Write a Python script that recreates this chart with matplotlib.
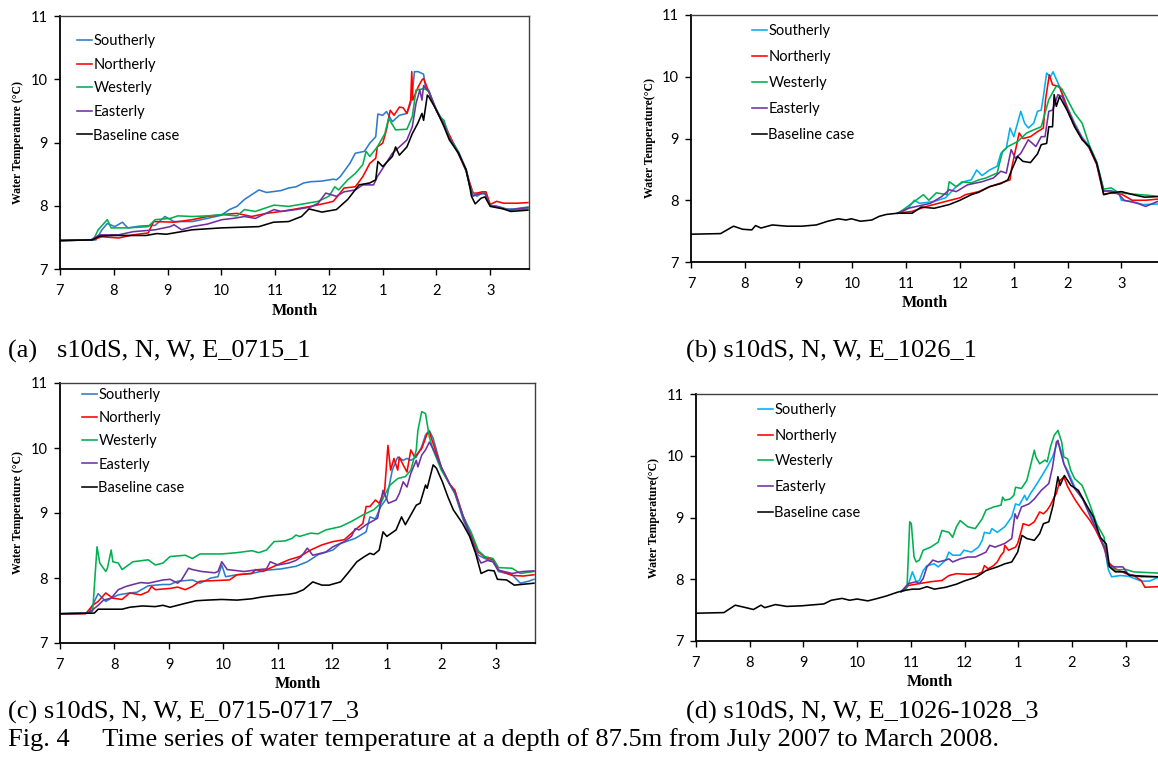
import matplotlib
matplotlib.use("Agg")
import matplotlib.pyplot as plt

# ---------------- data (x = months after 1 July 2007, y = water temperature, deg C) -------------
month_ticks = [0, 1, 2, 3, 4, 5, 6, 7, 8]
month_labels = ["7", "8", "9", "10", "11", "12", "1", "2", "3"]
temp_ticks = [7, 8, 9, 10, 11]
series_names = ["Southerly", "Northerly", "Westerly", "Easterly", "Baseline case"]

# Panel (a) s10dS, N, W, E_0715_1
a_south = [(0, 7.45), (0.67, 7.46), (0.78, 7.62), (0.88, 7.72), (1.02, 7.67), (1.16, 7.74), (1.26, 7.65),
           (1.5, 7.68), (1.77, 7.69), (1.95, 7.83), (2.12, 7.75), (2.46, 7.75), (2.74, 7.8), (3.0, 7.85),
           (3.15, 7.94), (3.29, 7.99), (3.43, 8.1), (3.7, 8.25), (3.84, 8.21), (4.11, 8.24), (4.25, 8.28),
           (4.39, 8.3), (4.53, 8.36), (4.66, 8.38), (4.87, 8.39), (5.08, 8.42), (5.14, 8.41), (5.21, 8.46),
           (5.39, 8.67), (5.49, 8.83), (5.66, 8.86), (5.76, 8.99), (5.87, 9.09), (5.91, 9.45), (6.0, 9.43),
           (6.07, 9.49), (6.18, 9.33), (6.31, 9.43), (6.45, 9.46), (6.52, 9.62), (6.55, 9.78), (6.59, 10.12),
           (6.66, 10.12), (6.76, 10.08), (6.8, 9.85), (6.86, 9.8), (7.0, 9.52), (7.14, 9.3), (7.24, 9.1),
           (7.41, 8.85), (7.55, 8.58), (7.62, 8.35), (7.68, 8.2), (7.75, 8.15), (7.85, 8.2), (7.92, 8.18),
           (8.0, 8.0), (8.1, 8.0), (8.3, 7.95), (8.45, 7.95), (8.7, 7.98)]
a_north = [(0, 7.45), (0.6, 7.46), (0.78, 7.51), (1.09, 7.49), (1.36, 7.54), (1.64, 7.57), (1.74, 7.75),
           (2.12, 7.74), (2.46, 7.78), (2.74, 7.83), (3.01, 7.86), (3.29, 7.88), (3.56, 7.83), (3.84, 7.88),
           (4.11, 7.91), (4.39, 7.95), (4.66, 7.99), (4.94, 8.04), (5.08, 8.07), (5.18, 8.17), (5.28, 8.28),
           (5.49, 8.3), (5.63, 8.46), (5.76, 8.67), (5.87, 8.75), (5.9, 8.93), (6.0, 8.99), (6.07, 9.2),
           (6.14, 9.51), (6.21, 9.43), (6.31, 9.56), (6.38, 9.55), (6.45, 9.46), (6.52, 9.67), (6.54, 10.12),
           (6.56, 9.67), (6.66, 9.88), (6.73, 9.99), (6.76, 10.01), (6.86, 9.8), (7.0, 9.5), (7.14, 9.3),
           (7.24, 9.12), (7.41, 8.82), (7.55, 8.55), (7.62, 8.35), (7.68, 8.2), (7.75, 8.2), (7.85, 8.22),
           (7.92, 8.22), (8.0, 8.02), (8.12, 8.07), (8.25, 8.04), (8.5, 8.04), (8.7, 8.05)]
a_west = [(0, 7.45), (0.62, 7.46), (0.71, 7.62), (0.88, 7.78), (0.95, 7.65), (1.26, 7.65), (1.64, 7.67),
          (1.77, 7.78), (2.05, 7.8), (2.19, 7.84), (2.46, 7.83), (2.74, 7.84), (3.01, 7.86), (3.29, 7.84),
          (3.43, 7.94), (3.63, 7.91), (3.98, 8.01), (4.25, 7.99), (4.53, 8.03), (4.8, 8.07), (5.0, 8.15),
          (5.11, 8.3), (5.18, 8.25), (5.35, 8.41), (5.49, 8.51), (5.63, 8.65), (5.69, 8.86), (5.76, 8.78),
          (5.9, 8.93), (6.04, 9.14), (6.11, 9.38), (6.24, 9.2), (6.45, 9.21), (6.55, 9.41), (6.62, 9.83),
          (6.76, 9.85), (6.86, 9.82), (6.95, 9.6), (7.05, 9.42), (7.14, 9.35), (7.24, 9.08), (7.41, 8.85),
          (7.55, 8.55), (7.62, 8.3), (7.68, 8.2), (7.75, 8.18), (7.9, 8.2), (8.0, 8.0), (8.15, 7.98),
          (8.35, 7.93), (8.7, 7.95)]
a_east = [(0, 7.45), (0.57, 7.46), (0.74, 7.54), (1.09, 7.54), (1.36, 7.59), (1.77, 7.62), (2.05, 7.67),
          (2.12, 7.7), (2.26, 7.62), (2.46, 7.67), (2.74, 7.71), (3.01, 7.78), (3.22, 7.8), (3.43, 7.83),
          (3.63, 7.8), (3.98, 7.94), (4.11, 7.91), (4.39, 7.94), (4.66, 7.98), (4.8, 8.04), (4.94, 8.2),
          (5.14, 8.15), (5.28, 8.22), (5.49, 8.25), (5.63, 8.33), (5.83, 8.33), (5.9, 8.46), (6.0, 8.59),
          (6.18, 8.83), (6.31, 8.93), (6.45, 9.04), (6.55, 9.25), (6.62, 9.62), (6.69, 9.83), (6.73, 9.67),
          (6.76, 9.9), (6.86, 9.8), (7.0, 9.5), (7.14, 9.28), (7.24, 9.07), (7.41, 8.82), (7.55, 8.57),
          (7.62, 8.3), (7.68, 8.15), (7.75, 8.18), (7.9, 8.2), (8.0, 8.0), (8.15, 7.98), (8.35, 7.93),
          (8.5, 7.95), (8.7, 7.97)]
a_base = [(0, 7.45), (0.6, 7.46), (0.74, 7.52), (1.0, 7.53), (1.6, 7.53), (1.8, 7.56), (1.98, 7.55),
          (2.46, 7.62), (3.0, 7.65), (3.7, 7.67), (3.97, 7.74), (4.25, 7.75), (4.49, 7.83), (4.63, 7.95),
          (4.87, 7.9), (5.14, 7.94), (5.35, 8.1), (5.56, 8.33), (5.76, 8.36), (5.87, 8.41), (5.91, 8.7),
          (6.0, 8.62), (6.18, 8.78), (6.24, 8.93), (6.31, 8.8), (6.45, 8.93), (6.55, 9.14), (6.65, 9.3),
          (6.73, 9.46), (6.76, 9.35), (6.83, 9.75), (6.86, 9.72), (7.0, 9.51), (7.14, 9.25), (7.24, 9.04),
          (7.41, 8.83), (7.55, 8.57), (7.62, 8.3), (7.65, 8.15), (7.72, 8.03), (7.83, 8.12), (7.9, 8.14),
          (8.0, 7.99), (8.24, 7.95), (8.38, 7.91), (8.7, 7.93)]

# Panel (b) s10dS, N, W, E_1026_1
b_south = [(3.84, 7.79), (3.9, 7.8), (4.04, 7.87), (4.15, 8.0), (4.25, 7.95), (4.52, 7.98), (4.73, 8.04),
           (4.93, 8.22), (5.07, 8.3), (5.21, 8.33), (5.31, 8.49), (5.41, 8.4), (5.55, 8.49), (5.69, 8.55),
           (5.76, 8.76), (5.86, 8.84), (5.93, 9.17), (6.0, 9.03), (6.13, 9.44), (6.2, 9.25), (6.27, 9.17),
           (6.37, 9.25), (6.44, 9.44), (6.51, 9.46), (6.55, 9.68), (6.61, 10.06), (6.68, 10.0), (6.73, 10.08),
           (6.85, 9.84), (7.0, 9.5), (7.13, 9.25), (7.27, 9.02), (7.4, 8.88), (7.54, 8.62), (7.6, 8.4),
           (7.67, 8.15), (7.81, 8.15), (7.95, 8.12), (8.0, 8.0), (8.2, 7.98), (8.4, 7.93), (8.7, 7.94)]
b_north = [(3.84, 7.79), (4.11, 7.82), (4.38, 7.9), (4.73, 7.98), (5.0, 8.04), (5.1, 8.09), (5.35, 8.14),
           (5.55, 8.22), (5.76, 8.28), (5.93, 8.33), (5.96, 8.52), (6.1, 9.09), (6.17, 9.0), (6.31, 9.03),
           (6.44, 9.11), (6.55, 9.17), (6.59, 9.63), (6.66, 10.03), (6.72, 9.87), (6.85, 9.84), (7.0, 9.48),
           (7.13, 9.22), (7.27, 9.0), (7.4, 8.85), (7.54, 8.58), (7.6, 8.35), (7.67, 8.1), (7.81, 8.12),
           (8.0, 8.1), (8.2, 8.0), (8.45, 8.0), (8.7, 8.02)]
b_west = [(3.84, 7.79), (3.95, 7.85), (4.32, 8.09), (4.42, 8.0), (4.56, 8.12), (4.76, 8.09), (4.8, 8.3),
          (4.93, 8.22), (5.04, 8.3), (5.21, 8.28), (5.35, 8.33), (5.48, 8.36), (5.69, 8.44), (5.79, 8.79),
          (5.89, 8.87), (6.07, 8.95), (6.24, 9.09), (6.37, 9.14), (6.51, 9.19), (6.65, 9.63), (6.79, 9.85),
          (6.89, 9.81), (7.13, 9.41), (7.27, 9.25), (7.4, 8.9), (7.54, 8.62), (7.6, 8.42), (7.67, 8.18),
          (7.81, 8.2), (7.95, 8.12), (8.2, 8.1), (8.5, 8.08), (8.7, 8.06)]
b_east = [(3.84, 7.79), (4.04, 7.87), (4.45, 7.95), (4.66, 8.06), (4.8, 8.17), (4.93, 8.14), (5.14, 8.25),
          (5.41, 8.3), (5.62, 8.36), (5.76, 8.47), (5.86, 8.44), (5.95, 8.82), (6.03, 8.68), (6.13, 8.76),
          (6.27, 8.98), (6.41, 8.87), (6.51, 9.03), (6.58, 9.03), (6.65, 9.44), (6.72, 9.46), (6.82, 9.71),
          (6.9, 9.68), (7.0, 9.45), (7.13, 9.2), (7.27, 9.0), (7.4, 8.85), (7.54, 8.6), (7.6, 8.38),
          (7.67, 8.15), (7.81, 8.15), (7.95, 8.1), (8.05, 8.0), (8.3, 7.95), (8.45, 7.9), (8.7, 7.99)]
b_base = [(0, 7.45), (0.55, 7.46), (0.79, 7.58), (0.96, 7.53), (1.13, 7.52), (1.2, 7.59), (1.3, 7.55),
          (1.51, 7.6), (1.78, 7.58), (2.06, 7.58), (2.33, 7.6), (2.54, 7.66), (2.74, 7.7), (2.88, 7.68),
          (2.98, 7.7), (3.15, 7.66), (3.36, 7.68), (3.5, 7.74), (3.63, 7.77), (3.84, 7.79), (4.11, 7.79),
          (4.28, 7.89), (4.52, 7.87), (4.8, 7.93), (5.0, 8.0), (5.21, 8.09), (5.35, 8.13), (5.55, 8.22),
          (5.76, 8.27), (5.89, 8.33), (5.96, 8.49), (6.07, 8.71), (6.17, 8.63), (6.31, 8.61), (6.44, 8.75),
          (6.51, 8.9), (6.61, 8.92), (6.65, 9.19), (6.72, 9.19), (6.75, 9.71), (6.79, 9.52), (6.85, 9.68),
          (6.99, 9.46), (7.13, 9.19), (7.27, 8.98), (7.4, 8.87), (7.54, 8.6), (7.6, 8.39), (7.67, 8.09),
          (7.81, 8.12), (8.0, 8.14), (8.22, 8.09), (8.43, 8.05), (8.7, 8.06)]

# Panel (c) s10dS, N, W, E_0715-0717_3
c_south = [(0, 7.45), (0.53, 7.46), (0.7, 7.76), (0.84, 7.64), (0.94, 7.69), (1.07, 7.74), (1.28, 7.77),
           (1.41, 7.78), (1.62, 7.88), (1.89, 7.9), (2.02, 7.9), (2.16, 7.95), (2.43, 7.97), (2.57, 7.92),
           (2.77, 8.0), (2.9, 8.02), (2.97, 8.2), (3.04, 8.02), (3.25, 8.05), (3.52, 8.07), (3.79, 8.12),
           (4.06, 8.14), (4.33, 8.18), (4.54, 8.25), (4.74, 8.36), (5.01, 8.43), (5.15, 8.53), (5.42, 8.61),
           (5.62, 8.71), (5.69, 8.94), (5.79, 8.91), (5.89, 9.1), (6.0, 9.23), (6.1, 9.66), (6.2, 9.86),
           (6.3, 9.81), (6.37, 9.84), (6.44, 9.81), (6.54, 9.86), (6.64, 10.02), (6.71, 10.2), (6.78, 10.27),
           (6.85, 10.15), (7.0, 9.7), (7.15, 9.45), (7.25, 9.3), (7.4, 8.9), (7.55, 8.6), (7.68, 8.35),
           (7.8, 8.3), (7.95, 8.25), (8.05, 8.1), (8.3, 8.05), (8.45, 7.92), (8.6, 7.95), (8.7, 7.98)]
c_north = [(0, 7.45), (0.47, 7.45), (0.6, 7.58), (0.7, 7.64), (0.84, 7.77), (0.97, 7.69), (1.14, 7.67),
           (1.28, 7.77), (1.48, 7.74), (1.62, 7.79), (1.68, 7.87), (1.75, 7.82), (2.02, 7.84), (2.16, 7.86),
           (2.3, 7.82), (2.43, 7.87), (2.57, 7.95), (2.84, 7.96), (3.11, 7.97), (3.25, 8.05), (3.52, 8.07),
           (3.59, 8.13), (3.72, 8.1), (3.93, 8.18), (4.2, 8.28), (4.4, 8.33), (4.6, 8.43), (4.81, 8.51),
           (5.01, 8.56), (5.22, 8.59), (5.42, 8.74), (5.56, 8.84), (5.62, 9.1), (5.69, 9.1), (5.79, 9.2),
           (5.86, 9.15), (5.96, 9.35), (6.02, 10.04), (6.07, 9.66), (6.13, 9.84), (6.2, 9.66), (6.23, 9.86),
           (6.3, 9.74), (6.37, 9.63), (6.44, 9.97), (6.51, 9.86), (6.64, 9.99), (6.74, 10.22), (6.78, 10.25),
           (6.85, 10.07), (7.0, 9.7), (7.15, 9.45), (7.25, 9.35), (7.4, 8.95), (7.55, 8.65), (7.68, 8.4),
           (7.8, 8.32), (7.95, 8.28), (8.05, 8.12), (8.3, 8.04), (8.5, 8.03), (8.7, 8.05)]
c_west = [(0, 7.45), (0.53, 7.46), (0.6, 7.49), (0.68, 8.48), (0.73, 8.23), (0.84, 8.1), (0.87, 8.15),
          (0.94, 8.43), (0.97, 8.25), (1.07, 8.23), (1.14, 8.13), (1.34, 8.25), (1.62, 8.28), (1.75, 8.2),
          (1.89, 8.23), (2.02, 8.33), (2.3, 8.35), (2.43, 8.3), (2.57, 8.37), (2.97, 8.37), (3.25, 8.39),
          (3.52, 8.42), (3.65, 8.39), (3.79, 8.43), (3.93, 8.56), (4.13, 8.57), (4.26, 8.61), (4.33, 8.66),
          (4.4, 8.64), (4.6, 8.69), (4.74, 8.68), (4.88, 8.74), (5.15, 8.79), (5.35, 8.87), (5.56, 8.97),
          (5.76, 9.05), (5.89, 9.15), (5.96, 9.28), (6.06, 9.43), (6.2, 9.53), (6.34, 9.56), (6.44, 9.66),
          (6.54, 9.97), (6.57, 10.27), (6.64, 10.56), (6.71, 10.53), (6.78, 10.17), (6.85, 9.97), (7.0, 9.66),
          (7.15, 9.45), (7.25, 9.3), (7.4, 8.95), (7.55, 8.7), (7.68, 8.42), (7.8, 8.33), (7.95, 8.3),
          (8.05, 8.16), (8.3, 8.15), (8.45, 8.07), (8.7, 8.1)]
c_east = [(0, 7.45), (0.5, 7.46), (0.6, 7.51), (0.7, 7.58), (0.8, 7.66), (0.94, 7.69), (1.07, 7.82),
          (1.21, 7.87), (1.34, 7.9), (1.48, 7.93), (1.62, 7.92), (1.89, 7.97), (2.02, 7.98), (2.16, 7.92),
          (2.23, 7.97), (2.36, 8.15), (2.43, 8.13), (2.6, 8.1), (2.84, 8.08), (2.9, 8.1), (2.97, 8.25),
          (3.07, 8.13), (3.38, 8.1), (3.65, 8.13), (3.79, 8.14), (3.86, 8.25), (4.0, 8.2), (4.2, 8.23),
          (4.33, 8.27), (4.43, 8.33), (4.54, 8.46), (4.64, 8.35), (4.88, 8.4), (5.01, 8.48), (5.22, 8.56),
          (5.35, 8.64), (5.42, 8.76), (5.49, 8.74), (5.62, 8.82), (5.83, 8.92), (5.93, 9.35), (6.03, 9.15),
          (6.17, 9.2), (6.23, 9.3), (6.3, 9.48), (6.37, 9.4), (6.44, 9.61), (6.54, 9.81), (6.57, 9.71),
          (6.64, 9.89), (6.71, 9.97), (6.78, 10.09), (6.88, 9.94), (7.01, 9.69), (7.15, 9.45), (7.25, 9.32),
          (7.4, 8.95), (7.55, 8.62), (7.65, 8.35), (7.73, 8.23), (7.85, 8.27), (7.95, 8.25), (8.05, 8.12),
          (8.3, 8.07), (8.5, 8.1), (8.7, 8.11)]
c_base = [(0, 7.45), (0.63, 7.46), (0.7, 7.52), (1.14, 7.52), (1.28, 7.55), (1.51, 7.57), (1.75, 7.56),
          (1.89, 7.58), (2.02, 7.55), (2.3, 7.61), (2.5, 7.65), (2.7, 7.66), (2.97, 7.67), (3.25, 7.66),
          (3.52, 7.68), (3.72, 7.71), (3.93, 7.73), (4.2, 7.75), (4.33, 7.77), (4.47, 7.82), (4.64, 7.94),
          (4.81, 7.89), (4.94, 7.89), (5.15, 7.94), (5.28, 8.07), (5.45, 8.25), (5.59, 8.33), (5.69, 8.38),
          (5.76, 8.36), (5.86, 8.43), (5.93, 8.71), (6.0, 8.64), (6.17, 8.74), (6.27, 8.94), (6.34, 8.82),
          (6.44, 8.97), (6.54, 9.12), (6.61, 9.15), (6.71, 9.43), (6.74, 9.38), (6.85, 9.74), (6.91, 9.69),
          (7.02, 9.48), (7.12, 9.25), (7.22, 9.05), (7.39, 8.84), (7.52, 8.64), (7.63, 8.38), (7.73, 8.07),
          (7.86, 8.12), (7.97, 8.11), (8.03, 7.98), (8.2, 7.97), (8.34, 7.89), (8.7, 7.92)]

# Panel (d) s10dS, N, W, E_1026-1028_3
d_south = [(3.82, 7.8), (3.96, 7.93), (4.03, 8.12), (4.1, 7.96), (4.16, 7.98), (4.23, 8.14), (4.3, 8.22),
           (4.44, 8.25), (4.51, 8.2), (4.65, 8.31), (4.71, 8.44), (4.78, 8.39), (4.92, 8.39), (4.99, 8.47),
           (5.13, 8.44), (5.26, 8.52), (5.33, 8.63), (5.37, 8.76), (5.47, 8.74), (5.51, 8.82), (5.61, 8.76),
           (5.75, 8.85), (5.88, 9.01), (5.95, 9.22), (6.02, 9.2), (6.12, 9.36), (6.16, 9.28), (6.23, 9.39),
           (6.33, 9.52), (6.43, 9.66), (6.54, 9.82), (6.64, 9.98), (6.71, 10.17), (6.74, 10.22), (6.81, 10.06),
           (6.85, 9.87), (6.92, 9.76), (7.05, 9.5), (7.2, 9.3), (7.35, 9.05), (7.5, 8.72), (7.62, 8.45),
           (7.68, 8.15), (7.74, 8.04), (7.9, 8.06), (8.05, 8.05), (8.29, 7.97), (8.45, 7.97), (8.6, 8.03)]
d_north = [(3.82, 7.8), (3.96, 7.9), (4.16, 7.93), (4.37, 7.96), (4.58, 7.98), (4.71, 8.06), (4.85, 8.09),
           (5.06, 8.08), (5.26, 8.09), (5.33, 8.12), (5.37, 8.22), (5.44, 8.17), (5.54, 8.22), (5.61, 8.28),
           (5.68, 8.39), (5.73, 8.44), (5.75, 8.55), (5.82, 8.47), (5.95, 8.52), (5.99, 8.58), (6.06, 8.79),
           (6.09, 8.9), (6.2, 8.87), (6.3, 8.93), (6.4, 9.09), (6.47, 9.06), (6.54, 9.12), (6.6, 9.2),
           (6.67, 9.33), (6.71, 9.39), (6.78, 9.6), (6.85, 9.66), (6.92, 9.5), (7.05, 9.3), (7.19, 9.12),
           (7.33, 8.96), (7.43, 8.82), (7.6, 8.52), (7.67, 8.28), (7.81, 8.17), (8.01, 8.09), (8.15, 8.06),
           (8.29, 7.98), (8.36, 7.87), (8.6, 7.88)]
d_west = [(3.82, 7.8), (3.89, 7.82), (3.93, 7.87), (3.98, 8.93), (4.01, 8.9), (4.06, 8.36), (4.1, 8.28),
          (4.16, 8.31), (4.23, 8.47), (4.37, 8.52), (4.51, 8.6), (4.58, 8.79), (4.71, 8.76), (4.78, 8.68),
          (4.85, 8.85), (4.92, 8.95), (5.06, 8.85), (5.2, 8.82), (5.33, 8.98), (5.4, 9.12), (5.54, 9.17),
          (5.68, 9.2), (5.71, 9.33), (5.75, 9.28), (5.85, 9.3), (5.92, 9.36), (5.95, 9.49), (6.06, 9.47),
          (6.16, 9.6), (6.23, 9.84), (6.3, 10.09), (6.33, 9.98), (6.4, 9.87), (6.5, 9.93), (6.54, 9.9),
          (6.6, 10.14), (6.67, 10.33), (6.74, 10.41), (6.81, 10.22), (6.85, 9.98), (6.92, 9.95), (6.98, 9.76),
          (7.05, 9.63), (7.19, 9.52), (7.33, 9.22), (7.46, 8.9), (7.6, 8.68), (7.67, 8.23), (7.81, 8.15),
          (8.0, 8.16), (8.15, 8.12), (8.6, 8.1)]
d_east = [(3.82, 7.8), (3.96, 7.93), (4.1, 7.96), (4.16, 7.93), (4.23, 8.01), (4.3, 8.2), (4.41, 8.31),
          (4.51, 8.28), (4.65, 8.31), (4.71, 8.33), (4.78, 8.28), (4.92, 8.33), (5.06, 8.36), (5.2, 8.36),
          (5.33, 8.41), (5.4, 8.44), (5.47, 8.55), (5.57, 8.52), (5.75, 8.58), (5.88, 8.66), (5.94, 9.06),
          (5.98, 8.98), (6.06, 9.17), (6.2, 9.22), (6.3, 9.3), (6.43, 9.44), (6.57, 9.55), (6.64, 9.82),
          (6.71, 10.22), (6.74, 10.25), (6.78, 10.09), (6.85, 9.87), (6.98, 9.6), (7.05, 9.47), (7.2, 9.3),
          (7.35, 9.0), (7.5, 8.72), (7.62, 8.5), (7.68, 8.22), (7.81, 8.2), (7.95, 8.2), (8.05, 8.08),
          (8.3, 8.04), (8.6, 8.04)]
d_base = [(0, 7.45), (0.52, 7.46), (0.73, 7.58), (0.93, 7.54), (1.07, 7.51), (1.21, 7.58), (1.28, 7.54),
          (1.48, 7.59), (1.69, 7.56), (1.97, 7.57), (2.1, 7.58), (2.38, 7.6), (2.52, 7.66), (2.72, 7.69),
          (2.86, 7.66), (3.0, 7.68), (3.2, 7.65), (3.34, 7.68), (3.55, 7.73), (3.75, 7.79), (3.89, 7.82),
          (4.03, 7.84), (4.16, 7.84), (4.3, 7.88), (4.44, 7.84), (4.65, 7.87), (4.85, 7.92), (4.99, 7.97),
          (5.2, 8.03), (5.3, 8.08), (5.4, 8.14), (5.61, 8.2), (5.75, 8.25), (5.88, 8.28), (5.99, 8.44),
          (6.07, 8.71), (6.16, 8.66), (6.3, 8.63), (6.4, 8.74), (6.47, 8.9), (6.57, 8.93), (6.65, 9.2),
          (6.74, 9.66), (6.78, 9.52), (6.86, 9.68), (6.98, 9.52), (7.12, 9.44), (7.26, 9.22), (7.4, 9.01),
          (7.53, 8.68), (7.64, 8.57), (7.7, 8.2), (7.81, 8.12), (7.98, 8.12), (8.08, 8.06), (8.6, 8.04)]

captions = ["(a)   s10dS, N, W, E_0715_1", "(b) s10dS, N, W, E_1026_1",
            "(c) s10dS, N, W, E_0715-0717_3", "(d) s10dS, N, W, E_1026-1028_3"]
fig_caption = "Fig. 4     Time series of water temperature at a depth of 87.5m from July 2007 to March 2008."

# ---------------- styling / layout ----------------
W, H = 1158, 758
fig = plt.figure(figsize=(W / 100, H / 100), dpi=100)
fig.patch.set_facecolor("white")

def px_rect(left, top, right, bottom):
    return [left / W, 1 - bottom / H, (right - left) / W, (bottom - top) / H]

blue_dark = "#2E7BCB"
blue_light = "#00B0F0"
colors_ac = [blue_dark, "#FF0000", "#00B050", "#7030A0", "#000000"]
colors_bd = [blue_light, "#FF0000", "#00B050", "#7030A0", "#000000"]

panels = [
    dict(data=[a_south, a_north, a_west, a_east, a_base], colors=colors_ac,
         rect=(60, 16, 529, 269), xmax=8.72, full_w=469, right_spine=True,
         ylabel="Water Temperature (°C)", ylab_x=18, month_y=311,
         leg=(77, 34), legsp=0.66, cap=(8, 351, captions[0])),
    dict(data=[b_south, b_north, b_west, b_east, b_base], colors=colors_bd,
         rect=(691, 15, 1158, 262), xmax=(1158 - 691) / 53.8, full_w=8.7 * 53.8, right_spine=False,
         ylabel="Water Temperature(°C)", ylab_x=650, month_y=303,
         leg=(752, 24), legsp=0.82, cap=(686, 351, captions[1])),
    dict(data=[c_south, c_north, c_west, c_east, c_base], colors=colors_ac,
         rect=(60, 383, 535, 643), xmax=8.72, full_w=475, right_spine=True,
         ylabel="Water Temperature (°C)", ylab_x=18, month_y=684,
         leg=(82, 388), legsp=0.63, cap=(8, 712, captions[2])),
    dict(data=[d_south, d_north, d_west, d_east, d_base], colors=colors_bd,
         rect=(696, 394, 1158, 641), xmax=(1158 - 696) / 53.7, full_w=8.7 * 53.7, right_spine=False,
         ylabel="Water Temperature(°C)", ylab_x=654, month_y=682,
         leg=(758, 403), legsp=0.8, cap=(686, 712, captions[3])),
]

tick_font = "Lato"
serif = "Liberation Serif"

for p in panels:
    l, t, r, b = p["rect"]
    ax = fig.add_axes(px_rect(l, t, r, b))
    for name, series, col in zip(series_names, p["data"], p["colors"]):
        xs = [q[0] for q in series]
        ys = [q[1] for q in series]
        ax.plot(xs, ys, color=col, lw=1.15, label=name, solid_joinstyle="round")
    ax.set_xlim(0, p["xmax"])
    ax.set_ylim(7, 11)
    ax.set_xticks(month_ticks)
    ax.set_xticklabels(month_labels, fontfamily=tick_font, fontsize=10.5)
    ax.set_yticks(temp_ticks)
    ax.set_yticklabels([str(v) for v in temp_ticks], fontfamily=tick_font, fontsize=10.5)
    ax.tick_params(axis="x", direction="out", length=4, width=1, pad=7, colors="black")
    ax.tick_params(axis="y", direction="out", length=4, width=1, pad=5, colors="black")
    for s in ("left", "bottom"):
        ax.spines[s].set_color("black")
        ax.spines[s].set_linewidth(1.3)
    ax.spines["top"].set_color("#404040")
    ax.spines["top"].set_linewidth(1.0)
    if p["right_spine"]:
        ax.spines["right"].set_color("#404040")
        ax.spines["right"].set_linewidth(1.0)
    else:
        ax.spines["right"].set_visible(False)

    # axis labels
    fig.text(p["ylab_x"] / W, 1 - ((t + b) / 2) / H, p["ylabel"], rotation=90,
             ha="center", va="center", fontfamily=serif, fontweight="bold", fontsize=8.5)
    fig.text((l + p["full_w"] / 2) / W, 1 - p["month_y"] / H, "Month", ha="center", va="center",
             fontfamily=serif, fontweight="bold", fontsize=11.5)

    # legend
    lx, ly = p["leg"]
    ax.legend(loc="upper left", bbox_to_anchor=(lx / W, 1 - ly / H),
              bbox_transform=fig.transFigure, frameon=False,
              handlelength=1.05, handletextpad=0.08, labelspacing=p["legsp"],
              borderpad=0, borderaxespad=0,
              prop={"family": tick_font, "size": 10.5})

    cx, cy, ctext = p["cap"]
    fig.text(cx / W, 1 - cy / H, ctext, ha="left", va="center",
             fontfamily=serif, fontsize=19)

fig.text(8 / W, 1 - 740 / H, fig_caption, ha="left", va="center", fontfamily=serif, fontsize=19)

fig.savefig("out.png", dpi=100, facecolor="white")
